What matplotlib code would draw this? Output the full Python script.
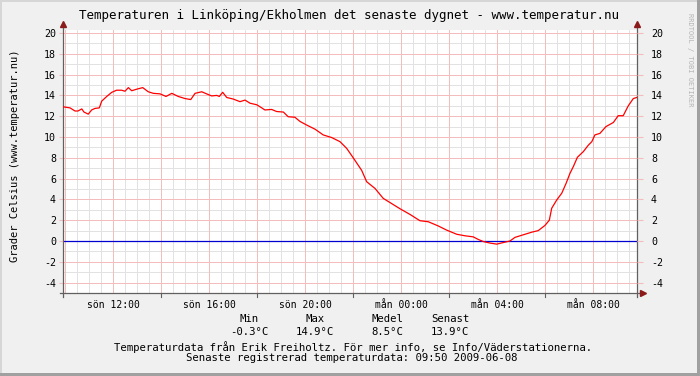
import numpy as np
import matplotlib
matplotlib.use('Agg')
from matplotlib import pyplot as plt
from matplotlib.patches import Rectangle


# timmar räknat från söndag 00:00 (mån 08:00 = 32)
timmar = [9.93, 10.21, 10.42, 10.54, 10.70, 10.79, 10.97, 11.11, 11.25, 11.43,
          11.53, 11.74, 11.95, 12.15, 12.36, 12.50, 12.64, 12.78, 12.99, 13.24,
          13.47, 13.68, 13.96, 14.21, 14.45, 14.72, 15.00, 15.24, 15.42, 15.70,
          15.90, 16.11, 16.32, 16.43, 16.57, 16.74, 17.01, 17.29, 17.50, 17.71,
          17.99, 18.20, 18.33, 18.61, 18.82, 19.10, 19.30, 19.58, 19.79, 20.07,
          20.42, 20.76, 21.11, 21.46, 21.74, 22.01, 22.36, 22.57, 22.92, 23.26,
          23.61, 23.96, 24.38, 24.79, 25.14, 25.55, 25.90, 26.32, 26.67, 27.01,
          27.22, 27.43, 27.71, 27.99, 28.26, 28.54, 28.75, 29.10, 29.45, 29.72,
          30.00, 30.18, 30.28, 30.49, 30.70, 30.88, 31.04, 31.18, 31.35, 31.60,
          31.80, 31.95, 32.08, 32.29, 32.54, 32.85, 33.05, 33.26, 33.47, 33.68,
          33.82]

temperatur = [12.9, 12.8, 12.5, 12.5, 12.7, 12.4, 12.2, 12.6, 12.75, 12.8,
              13.45, 13.9, 14.3, 14.5, 14.5, 14.4, 14.75, 14.45, 14.6, 14.75,
              14.35, 14.2, 14.15, 13.9, 14.2, 13.9, 13.7, 13.6, 14.2, 14.35,
              14.15, 13.95, 14.0, 13.9, 14.3, 13.8, 13.65, 13.4, 13.55, 13.25,
              13.1, 12.8, 12.6, 12.65, 12.45, 12.4, 11.95, 11.9, 11.5, 11.15,
              10.75, 10.2, 9.95, 9.55, 8.9, 8.0, 6.8, 5.7, 5.05, 4.1,
              3.6, 3.1, 2.55, 1.95, 1.85, 1.45, 1.05, 0.65, 0.5, 0.4,
              0.15, -0.05, -0.2, -0.3, -0.15, 0.0, 0.35, 0.6, 0.85, 1.0,
              1.5, 2.0, 3.15, 3.95, 4.6, 5.55, 6.5, 7.15, 8.05, 8.6,
              9.2, 9.55, 10.2, 10.35, 11.0, 11.4, 12.05, 12.05, 13.0, 13.7,
              13.8]

etikett_timmar = [12, 16, 20, 24, 28, 32]
etiketter = ['sön 12:00', 'sön 16:00', 'sön 20:00', 'mån 00:00', 'mån 04:00', 'mån 08:00']
y_etiketter = [-4, -2, 0, 2, 4, 6, 8, 10, 12, 14, 16, 18, 20]

statistik_namn = ['Min', 'Max', 'Medel', 'Senast']
statistik_varden = ['-0.3°C', '14.9°C', '8.5°C', '13.9°C']

titel = 'Temperaturen i Linköping/Ekholmen det senaste dygnet - www.temperatur.nu'
y_titel = 'Grader Celsius (www.temperatur.nu)'
rad1 = 'Temperaturdata från Erik Freiholtz. För mer info, se Info/Väderstationerna.'
rad2 = 'Senaste registrerad temperaturdata: 09:50 2009-06-08'

MONO = 'DejaVu Sans Mono'
W, H = 700, 376

fig = plt.figure(figsize=(7, 3.76), dpi=100, facecolor='#f0f0f0')

# ram runt bilden
fig.add_artist(Rectangle((0, 1 - 2 / H), 1, 2 / H, transform=fig.transFigure, color='#d6d6d6', lw=0))
fig.add_artist(Rectangle((0, 0), 2 / W, 1, transform=fig.transFigure, color='#d6d6d6', lw=0))
fig.add_artist(Rectangle((1 - 3 / W, 0), 3 / W, 1, transform=fig.transFigure, color='#a0a0a0', lw=0))
fig.add_artist(Rectangle((0, 0), 1, 3 / H, transform=fig.transFigure, color='#a0a0a0', lw=0))

ax = fig.add_axes([63 / W, 83 / H, 574 / W, 263 / H])
ax.set_facecolor('white')
x0, x1 = 9.917, 9.917 + 574 / 24
y0, y1 = -5, 20.29
ax.set_xlim(x0, x1)
ax.set_ylim(y0, y1)

# rutnät
for x in np.arange(10, 34, 0.5):
    ax.axvline(x, color='#e2e2e2', lw=0.7, zorder=0)
for y in np.arange(-4, 21, 1):
    ax.axhline(y, color='#e2e2e2', lw=0.7, zorder=0)
for x in np.arange(10, 34, 2):
    ax.axvline(x, color='#f5bcbc', lw=0.7, zorder=1)
for y in np.arange(-4, 21, 2):
    ax.axhline(y, color='#f5bcbc', lw=0.7, zorder=1)

ax.axhline(0, color='#0000d0', lw=0.9, zorder=2)
ax.plot(timmar, temperatur, color='#ff0000', lw=0.9, zorder=3)

for s in ax.spines.values():
    s.set_visible(False)

# axellinjer och pilar
axfarg = '#606060'
ax.plot([0, 0], [-4 / 263, 1 + 5 / 263], transform=ax.transAxes, color=axfarg, lw=0.9, clip_on=False)
ax.plot([1, 1], [-4 / 263, 1 + 5 / 263], transform=ax.transAxes, color=axfarg, lw=0.9, clip_on=False)
ax.plot([-3 / 574, 1 + 5 / 574], [0, 0], transform=ax.transAxes, color=axfarg, lw=0.9, clip_on=False)
ax.plot([0, 1], [1 + 6 / 263, 1 + 6 / 263], transform=ax.transAxes, ls='none',
        marker='^', ms=4, color='#8b1a1a', clip_on=False)
ax.plot([1 + 6 / 574], [0], transform=ax.transAxes, ls='none',
        marker='>', ms=4, color='#8b1a1a', clip_on=False)
for x in np.arange(14, 34, 4):
    ax.plot([(x - x0) / (x1 - x0)] * 2, [0, -4 / 263], transform=ax.transAxes,
            color=axfarg, lw=0.8, clip_on=False)

ax.set_xticks(etikett_timmar)
ax.set_xticklabels(etiketter, family=MONO, fontsize=7)
ax.tick_params(axis='x', length=0, pad=5)
ax.set_yticks(y_etiketter)
ax.set_yticklabels([str(v) for v in y_etiketter], family=MONO, fontsize=7.2)
ax.tick_params(axis='y', length=3, color='#f5bcbc', pad=2)

ax2 = ax.twinx()
ax2.set_ylim(y0, y1)
ax2.set_yticks(y_etiketter)
ax2.set_yticklabels([str(v) for v in y_etiketter], family=MONO, fontsize=7.2)
ax2.tick_params(axis='y', length=4, color='#f5bcbc', pad=6)
for s in ax2.spines.values():
    s.set_visible(False)

# texter
fig.text(349 / W, 1 - 16 / H, titel, ha='center', va='center', family=MONO, fontsize=9)
fig.text(15 / W, 1 - 156 / H, y_titel, ha='center', va='center', rotation=90, family=MONO, fontsize=7.5)
fig.text(690 / W, 1 - 60 / H, 'RRDTOOL / TOBI OETIKER', ha='center', va='center',
         rotation=270, family=MONO, fontsize=5, color='#b4b4b4')

for namn, varde, xp in zip(statistik_namn, statistik_varden, [249, 315, 387, 450]):
    fig.text(xp / W, 1 - 319 / H, namn, ha='center', va='center', family=MONO, fontsize=7.7)
    fig.text(xp / W, 1 - 332 / H, varde, ha='center', va='center', family=MONO, fontsize=7.7)

fig.text(353 / W, 1 - 347 / H, rad1, ha='center', va='center', family=MONO, fontsize=7.7)
fig.text(352 / W, 1 - 358 / H, rad2, ha='center', va='center', family=MONO, fontsize=7.7)

fig.savefig('out.png', dpi=100, facecolor=fig.get_facecolor())
